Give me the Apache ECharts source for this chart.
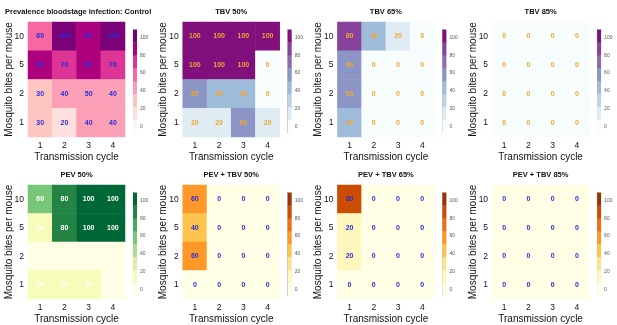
<!DOCTYPE html>
<html>
<head>
<meta charset="utf-8">
<script src="https://cdn.jsdelivr.net/npm/echarts@6/dist/echarts.min.js"></script>
<style>
  html, body { margin: 0; padding: 0; background: #fff; }
  #chart { width: 617px; height: 325px; }
</style>
</head>
<body>
<div id="chart"></div>
<script>
// axes
var cycles = ['1', '2', '3', '4'];
var bites = ['10', '5', '2', '1'];   // top to bottom
var barTicks = [0, 20, 40, 60, 80, 100];
var barMin = -7, barMax = 109, nBins = 8;

// values, rows = bites 10, 5, 2, 1 ; cols = cycle 1..4
var control   = [[60, 100, 80, 100], [80, 70, 80, 70], [30, 40, 50, 40], [30, 20, 40, 40]];
var tbv50     = [[100, 100, 100, 100], [100, 100, 100, 0], [60, 40, 40, 0], [20, 20, 60, 20]];
var tbv65     = [[80, 40, 20, 0], [60, 0, 0, 0], [60, 0, 0, 0], [40, 0, 0, 0]];
var tbv85     = [[0, 0, 0, 0], [0, 0, 0, 0], [0, 0, 0, 0], [0, 0, 0, 0]];
var pev50     = [[60, 80, 100, 100], [20, 80, 100, 100], [0, 0, 0, 0], [20, 20, 20, 0]];
var pevTbv50  = [[60, 0, 0, 0], [40, 0, 0, 0], [60, 0, 0, 0], [0, 0, 0, 0]];
var pevTbv65  = [[80, 0, 0, 0], [20, 0, 0, 0], [20, 0, 0, 0], [0, 0, 0, 0]];
var pevTbv85  = [[0, 0, 0, 0], [0, 0, 0, 0], [0, 0, 0, 0], [0, 0, 0, 0]];

var titles = ['Prevalence bloodstage infection: Control', 'TBV 50%', 'TBV 65%', 'TBV 85%',
              'PEV 50%', 'PEV + TBV 50%', 'PEV + TBV 65%', 'PEV + TBV 85%'];
var panelData = [control, tbv50, tbv65, tbv85, pev50, pevTbv50, pevTbv65, pevTbv85];

var RdPu = ['#fff7f3', '#fde0dd', '#fcc5c0', '#fa9fb5', '#f768a1', '#dd3497', '#ae017e', '#7a0177', '#49006a'];
var BuPu = ['#f7fcfd', '#e0ecf4', '#bfd3e6', '#9ebcda', '#8c96c6', '#8c6bb1', '#88419d', '#810f7c', '#4d004b'];
var YlGn = ['#ffffe5', '#f7fcb9', '#d9f0a3', '#addd8e', '#78c679', '#41ab5d', '#238443', '#006837', '#004529'];
var YlOrBr = ['#ffffe5', '#fff7bc', '#fee391', '#fec44f', '#fe9929', '#ec7014', '#cc4c02', '#993404', '#662506'];
var palettes = [RdPu, BuPu, BuPu, BuPu, YlGn, YlOrBr, YlOrBr, YlOrBr];
var labelColors = ['#2b2bd9', '#f2a531', '#f2a531', '#f2a531', '#ffffff', '#2b2bd9', '#2b2bd9', '#2b2bd9'];

var font = "'Liberation Sans', Arial, sans-serif";
var chart = echarts.init(document.getElementById('chart'));

// equal-width colour bins over the key range
var step = (barMax - barMin) / nBins;
var binEdges = [];
for (var b = 0; b < nBins; b++) binEdges.push([barMin + b * step, barMin + (b + 1) * step, b]);

var grid = [], xAxis = [], yAxis = [], series = [], visualMap = [], graphic = [];

panelData.forEach(function (vals, i) {
  var col = i % 4, row = Math.floor(i / 4);
  var left = 28 + col * 154.7;
  var top = row ? 185 : 22;
  var w = 97, h = 115;
  var pal = palettes[i];

  // heatmap
  grid.push({ left: left, top: top, width: w, height: h });
  xAxis.push({
    type: 'category', data: cycles, gridIndex: 2 * i,
    axisLine: { show: false }, axisTick: { show: false }, splitLine: { show: false },
    axisLabel: { fontSize: 8.5, color: '#111', margin: 4, fontFamily: font },
    name: 'Transmission cycle', nameLocation: 'middle', nameGap: 15, nameMoveOverlap: false,
    nameTextStyle: { fontSize: 10, color: '#111', fontFamily: font }
  });
  yAxis.push({
    type: 'category', data: bites, inverse: true, gridIndex: 2 * i,
    axisLine: { show: false }, axisTick: { show: false }, splitLine: { show: false },
    axisLabel: { fontSize: 8.5, color: '#111', margin: 4, fontFamily: font },
    name: 'Mosquito bites per mouse', nameLocation: 'middle', nameGap: 14, nameRotate: 90,
    nameMoveOverlap: false,
    nameTextStyle: { fontSize: 10, color: '#111', fontFamily: font }
  });
  var data = [];
  vals.forEach(function (r, yi) {
    r.forEach(function (v, xi) { data.push([xi, yi, v]); });
  });
  series.push({
    type: 'heatmap', xAxisIndex: 2 * i, yAxisIndex: 2 * i, data: data,
    label: { show: true, color: labelColors[i], fontSize: 7, fontWeight: 'bold', fontFamily: font },
    emphasis: { disabled: true }
  });
  visualMap.push({
    type: 'piecewise', show: false, seriesIndex: series.length - 1,
    pieces: binEdges.map(function (e) { return { gte: e[0], lt: e[1], color: pal[e[2]] }; })
  });

  // colour key
  grid.push({ left: left + w + 8, top: top + 7.5, width: 4, height: 103 });
  xAxis.push({ type: 'value', min: 0, max: 1, gridIndex: 2 * i + 1, show: false });
  yAxis.push({
    type: 'value', min: barMin, max: barMax, gridIndex: 2 * i + 1, position: 'right',
    splitLine: { show: false },
    axisLine: { show: true, lineStyle: { color: '#999', width: 0.6 } },
    axisTick: { show: true, length: 2, customValues: barTicks, lineStyle: { color: '#777', width: 0.6 } },
    axisLabel: { customValues: barTicks, fontSize: 5, color: '#555', margin: 3, fontFamily: font }
  });
  series.push({
    type: 'custom', xAxisIndex: 2 * i + 1, yAxisIndex: 2 * i + 1, silent: true,
    data: binEdges,
    renderItem: function (params, api) {
      var p0 = api.coord([0, api.value(1)]);
      var p1 = api.coord([1, api.value(0)]);
      return {
        type: 'rect',
        shape: { x: p0[0], y: p0[1], width: p1[0] - p0[0], height: p1[1] - p0[1] + 0.3 },
        style: { fill: pal[api.value(2)] }
      };
    }
  });

  // panel title
  graphic.push({
    type: 'text',
    x: i === 0 ? 5 : left + w / 2,
    y: row ? 175 : 12,
    style: {
      text: titles[i], fill: '#111', align: i === 0 ? 'left' : 'center', verticalAlign: 'middle',
      font: 'bold 7.5px ' + font
    }
  });
});

chart.setOption({
  backgroundColor: '#fff',
  animation: false,
  grid: grid,
  xAxis: xAxis,
  yAxis: yAxis,
  visualMap: visualMap,
  series: series,
  graphic: graphic
});
</script>
</body>
</html>
